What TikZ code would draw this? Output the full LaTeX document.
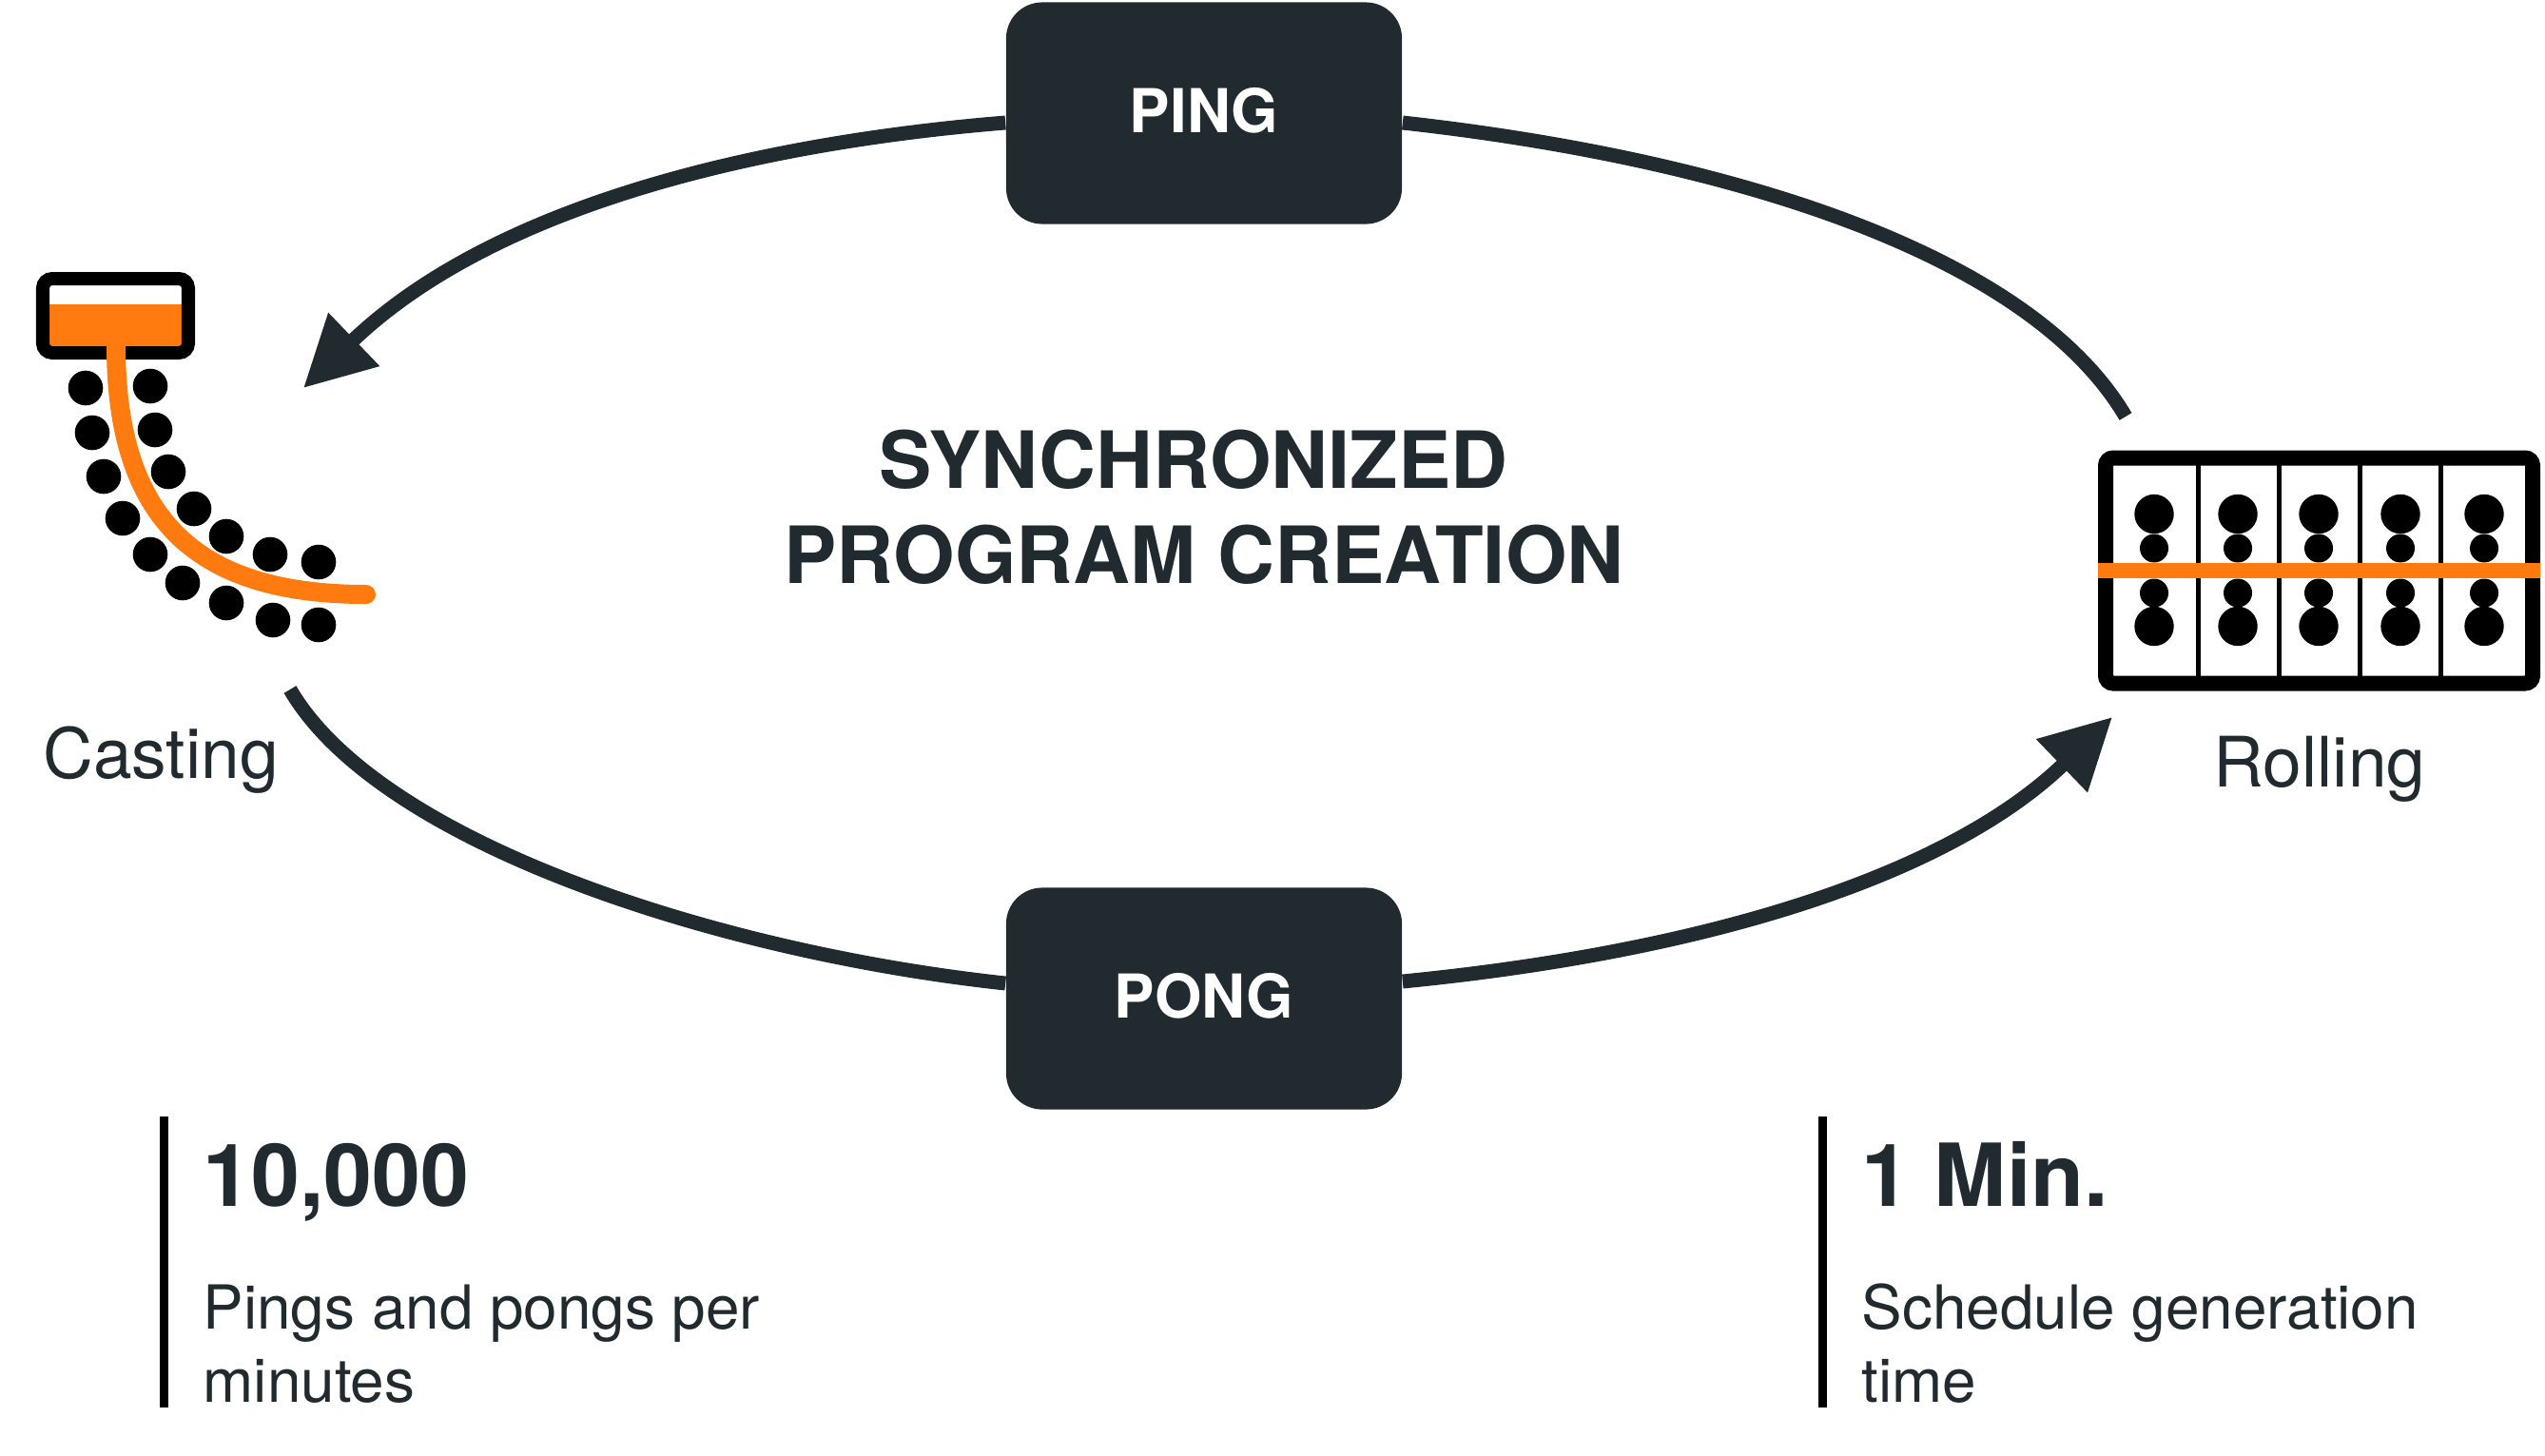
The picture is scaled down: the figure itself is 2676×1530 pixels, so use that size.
\documentclass[tikz,border=0pt]{standalone}
\usepackage{fontspec}
\setmainfont{TeX Gyre Heros}
\usetikzlibrary{arrows.meta}
\definecolor{FigureDark}{HTML}{212A2F}
\definecolor{FigureOrange}{HTML}{FF7A0F}
\tikzset{
  flowbox/.style={fill=FigureDark,text=white,rounded corners=.38cm,minimum width=4.16cm,minimum height=2.33cm,font=\fontsize{18.1}{22}\selectfont\bfseries},
  flowline/.style={FigureDark,line width=4.25pt},
  flowarrow/.style={flowline,-{Triangle[length=21pt,width=21pt]}},
  titlelabel/.style={text=FigureDark,anchor=base,inner sep=0pt,font=\fontsize{23.6}{28}\selectfont\bfseries},
  steplabel/.style={text=FigureDark,anchor=base,inner sep=0pt,font=\fontsize{20.8}{25}\selectfont},
  statvalue/.style={text=FigureDark,anchor=base west,inner sep=0pt,font=\fontsize{26}{30}\selectfont\bfseries},
  stattext/.style={text=FigureDark,anchor=base west,inner sep=0pt,align=left,font=\fontsize{18.15}{21.9}\selectfont},
}

\begin{document}
\begin{tikzpicture}[x=.01cm,y=-.01cm]
  \useasboundingbox (0,0) rectangle (2676,1530);
  \node[flowbox] (ping) at (1266,119) {\raisebox{1.5pt}{PING}}; \node[flowbox] (pong) at (1266,1050) {\raisebox{1.5pt}{PONG}};
  \node[titlelabel] (titletop) at (1255,513.5) {SYNCHRONIZED}; \node[titlelabel] (titlebottom) at (1266,613) {PROGRAM CREATION};
  \node[steplabel] (casting) at (169,818) {Casting}; \node[steplabel] (rolling) at (2439,827) {Rolling};
  % casting strand
  \fill[FigureOrange] (45,320) rectangle (198,371);
  \draw[rounded corners=.1cm,line width=.14cm] (45,293) rectangle (198,371);
  \draw[FigureOrange,line width=.2cm,line cap=round] (122,363) .. controls (122,540) and (200,625) .. (385,625);
  \foreach \x/\y in {90/408,158/406,97/455,163/452,109/501,177/496,129/545,204/535,158/583,238/564,192/613,284/583,238/634,335/591,287/652,335/657}
    \fill (\x,\y) circle (18.3);
  % rolling stands
  \draw[rounded corners=.08cm,line width=.16cm] (2214,481.5) rectangle (2663,718.5);
  \foreach \x in {2311,2396,2481,2566} \draw[line width=.05cm] (\x,481) -- (\x,718);
  \foreach \x in {2265,2353,2438,2524,2612} {
    \fill (\x,540.5) circle (20.7); \fill (\x,658.5) circle (20.7);
    \fill (\x,576.5) circle (15); \fill (\x,623.5) circle (15);
  }
  \fill[FigureOrange] (2206,591.5) rectangle (2671,607.5);
  % ping and pong
  \coordinate (castingin) at (319,408); \coordinate (castingout) at (305,725);
  \coordinate (rollingin) at (2221,754); \coordinate (rollingout) at (2235,438);
  \draw[flowline] (rollingout) .. controls (2130,260) and (1800,165) .. ([yshift=-.10cm]ping.east);
  \draw[flowarrow] ([yshift=-.10cm]ping.west) .. controls (800,150) and (520,215) .. (castingin);
  \draw[flowline] (castingout) .. controls (400,888) and (760,1002) .. ([yshift=.16cm]pong.west);
  \draw[flowarrow] ([yshift=.18cm]pong.east) .. controls (1800,1000) and (2050,919) .. (rollingin);
  % figures
  \draw[line width=.09cm] (172,1174) -- (172,1480); \draw[line width=.09cm] (1916,1174) -- (1916,1480);
  \node[statvalue] (pingrate) at (213,1268) {10,000}; \node[statvalue] (schedtime) at (1957,1268) {1 Min.};
  \node[stattext] (pingtext) at (213,1474.5) {Pings and pongs per\\minutes}; \node[stattext] (schedtext) at (1957,1474.5) {Schedule generation\\time};
\end{tikzpicture}
\end{document}
